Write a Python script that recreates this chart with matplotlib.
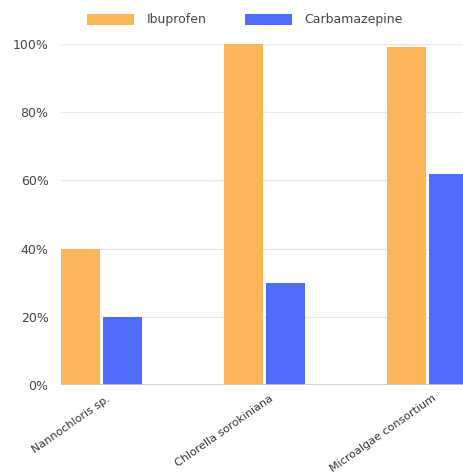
import matplotlib
matplotlib.use("Agg")
import matplotlib.pyplot as plt
import numpy as np
from matplotlib.ticker import FuncFormatter

categories = ["Nannochloris sp.", "Chlorella sorokiniana", "Microalgae consortium"]
series_names = ["Ibuprofen", "Carbamazepine"]
ibuprofen = [40, 100, 99]
carbamazepine = [20, 30, 62]
y_ticks = [0, 20, 40, 60, 80, 100]

plt.rcParams['font.family'] = ['DejaVu Sans']

fig = plt.figure(figsize=(4.63, 4.76), dpi=100)
ax = fig.add_axes([61/463, 91/476, 1 - 61/463, (385-44)/476])

w = 0.239
g = 0.018
off = (w + g) / 2
x = np.arange(len(categories))
c1 = "#FCB65A"
c2 = "#4F6DFA"
ax.bar(x - off, ibuprofen, width=w, color=c1, label=series_names[0], zorder=3)
ax.bar(x + off, carbamazepine, width=w, color=c2, label=series_names[1], zorder=3)

ax.set_xlim(-off - w/2, 2.218)
ax.set_ylim(0, 100)
ax.set_yticks(y_ticks)
ax.yaxis.set_major_formatter(FuncFormatter(lambda v, p: f"{int(v)}%"))
ax.grid(axis='y', color='#e6e6e6', linewidth=0.9, zorder=0)
ax.set_xticks(x + 0.05)
ax.set_xticklabels(categories, rotation=35, ha='right', va='center', rotation_mode='anchor',
                   fontsize=8, color='#333333')
for s in ax.spines.values():
    s.set_visible(False)
ax.axhline(0, color='#cccccc', linewidth=1.2, zorder=4)
ax.tick_params(axis='both', length=0)
ax.tick_params(axis='y', pad=9, labelsize=9, labelcolor='#444444')
ax.tick_params(axis='x', pad=9)

fig.legend(loc='center', bbox_to_anchor=(245/463, 1 - 20/476), ncol=2, frameon=False,
           fontsize=9, handlelength=3.76, handleheight=0.96, handletextpad=1.04,
           columnspacing=3.0, labelcolor='#444444')

fig.savefig("out.png", dpi=100)
